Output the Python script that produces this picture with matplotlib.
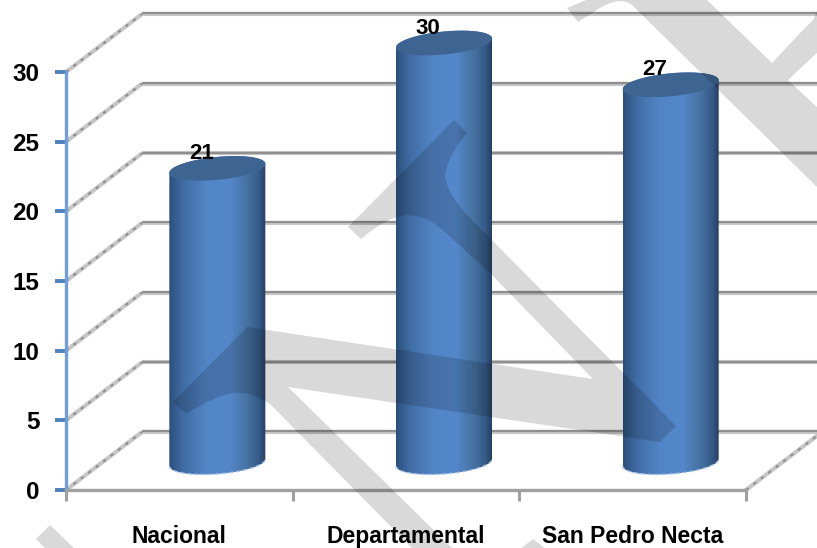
import numpy as np
import matplotlib
matplotlib.use("Agg")
import matplotlib.pyplot as plt
from matplotlib.colors import LinearSegmentedColormap
from matplotlib.patches import PathPatch, Polygon
from matplotlib.path import Path
from matplotlib.transforms import IdentityTransform

categories = ["Nacional", "Departamental", "San Pedro Necta"]
values = [21, 30, 27]
y_ticks = [0, 5, 10, 15, 20, 25, 30]

W, H = 817, 548
plt.rcParams["font.family"] = ["Liberation Sans", "DejaVu Sans"]
plt.rcParams["font.weight"] = "bold"

fig = plt.figure(figsize=(W / 100, H / 100), dpi=100)
fig.patch.set_facecolor("white")
# plot box in pixels: x 66..746, y 490..72
ax = fig.add_axes([66 / W, (H - 490) / H, 680 / W, 418 / H])
ax.patch.set_visible(False)

px_x = 680 / 3
px_y = 418 / 30
depth_x = 76 / px_x
depth_y = 58 / px_y

# walls
for v in y_ticks:
    ax.plot([0, depth_x], [v, v + depth_y], color="#c6c6c6", lw=3.0, clip_on=False, zorder=1, solid_capstyle="butt")
    ax.plot([0, depth_x], [v, v + depth_y], color="#8e8e8e", lw=1.5, ls=(0, (1.5, 3)), clip_on=False, zorder=1.1)
    ax.plot([depth_x, 3.4], [v + depth_y] * 2, color="#c8c8c8", lw=3.0, clip_on=False, zorder=1, solid_capstyle="butt")
    ax.plot([depth_x, 3.4], [v + depth_y + 0.04] * 2, color="#8f8f8f", lw=1.6, clip_on=False, zorder=1.1, solid_capstyle="butt")
ax.plot([3, 3 + depth_x], [0, depth_y], color="#c6c6c6", lw=3.0, clip_on=False, zorder=1)
ax.plot([3, 3 + depth_x], [0, depth_y], color="#8e8e8e", lw=1.5, ls=(0, (1.5, 3)), clip_on=False, zorder=1.1)

# cylinders
cyl_cmap = LinearSegmentedColormap.from_list(
    "cyl", [(0, "#2c4f7c"), (0.14, "#406ca3"), (0.38, "#5285c6"), (0.62, "#5588cb"),
            (0.82, "#45719f"), (0.93, "#365a88"), (1, "#263f63")]
)
grad = np.linspace(0, 1, 256).reshape(1, -1)
half_w = 48 / px_x
ell_h = 11.5 / px_y
tilt_top = 4.5 / px_y
tilt_base = 3.5 / px_y
base = 27.5 / px_y
t_low = np.linspace(np.pi, 2 * np.pi, 60)
t_up = np.linspace(0, np.pi, 60)
t_all = np.linspace(0, 2 * np.pi, 120)

for i, v in enumerate(values):
    cx = i + 0.5 + depth_x / 2
    top = 29 / px_y + v
    xs = np.r_[cx + half_w * np.cos(t_low), cx + half_w * np.cos(t_up)]
    ys = np.r_[base + ell_h * np.sin(t_low) + tilt_base * np.cos(t_low),
               top + ell_h * np.sin(t_up) + tilt_top * np.cos(t_up)]
    body = Polygon(np.c_[xs, ys], closed=True, transform=ax.transData, fc="none", ec="none")
    im = ax.imshow(grad, cmap=cyl_cmap, aspect="auto", zorder=3,
                   extent=[cx - half_w, cx + half_w, base - 2, top + 2])
    im.set_clip_box(fig.bbox)
    im.set_clip_path(body)
    ax.plot(cx + half_w * np.cos(t_low), base + ell_h * np.sin(t_low) + tilt_base * np.cos(t_low),
            color="#a9c4e6", lw=1.0, ls=(0, (3, 2)), clip_on=False, zorder=3.2)
    ax.add_patch(Polygon(np.c_[cx + half_w * np.cos(t_all), top + ell_h * np.sin(t_all) + tilt_top * np.cos(t_all)],
                         closed=True, fc="#3e6592", ec="none", clip_on=False, zorder=3.3))
    ax.text(cx - 16 / px_x, top + 15 / px_y, str(v), ha="center", va="center", fontsize=16,
            color="black", clip_on=False, zorder=4)

ax.set_xlim(0, 3)
ax.set_ylim(0, 30)
ax.set_yticks(y_ticks)
ax.set_xticks([0.5, 1.5, 2.5])
ax.set_xticklabels(categories)
ax.set_xticks([0, 1, 2, 3], minor=True)
ax.tick_params(axis="y", length=8, width=2.8, color="#4f81bd", pad=11, labelsize=17.5)
ax.tick_params(axis="x", which="major", length=0, pad=25, labelsize=16.5)
ax.tick_params(axis="x", which="minor", length=8, width=2.2, color="#a0a0a0")
for s in ["top", "right"]:
    ax.spines[s].set_visible(False)
ax.spines["left"].set_color("#6f9fd8")
ax.spines["left"].set_linewidth(2.4)
ax.spines["bottom"].set_color("#a0a0a0")
ax.spines["bottom"].set_linewidth(2.4)
ax.spines["left"].set_zorder(2)
ax.spines["bottom"].set_zorder(2)

# watermark, pixel coords from the top left
M, L, C, Z = Path.MOVETO, Path.LINETO, Path.CURVE3, Path.CLOSEPOLY
mark_main = [
    ((173, 402), M), ((247, 327), L), ((593, 379), L), ((490, 273), L), ((445, 232), L),
    ((425, 214), C), ((405, 215), C), ((385, 218), C), ((361, 239), C),
    ((348, 227), L), ((454, 120), L), ((467, 133), L),
    ((448, 155), C), ((445, 175), C), ((447, 195), C), ((470, 218), C),
    ((676, 426), L), ((660, 442), L), ((288, 387), L), ((452, 548), L), ((412, 548), L),
    ((270, 404), L), ((250, 391), C), ((235, 393), C), ((215, 395), C), ((186, 414), C),
    ((173, 402), Z),
]
mark_top = [
    ((567, 8), M), ((598, -5), L), ((707, -5), L), ((707, 0), L), ((772, 63), L),
    ((800, 33), L), ((813, 20), L), ((820, 5), L), ((820, 50), L), ((788, 80), L),
    ((820, 110), L), ((820, 190), L), ((632, 5), L), ((620, -4), C), ((600, 8), C),
    ((578, 22), L), ((567, 8), Z),
]
mark_low_left = [((50, 525), M), ((36, 539), L), ((47, 550), L), ((76, 550), L), ((50, 525), Z)]
mark_low_mid = [((533, 539), M), ((519, 550), L), ((547, 550), L), ((533, 539), Z)]
for mark in [mark_main, mark_top, mark_low_left, mark_low_mid]:
    verts = [(x, H - y) for (x, y), _ in mark]
    codes = [c for _, c in mark]
    ax.add_patch(PathPatch(Path(verts, codes), fc="black", ec="none", alpha=0.15,
                           transform=IdentityTransform(), clip_on=False, zorder=6))

fig.savefig("out.png", dpi=100)
